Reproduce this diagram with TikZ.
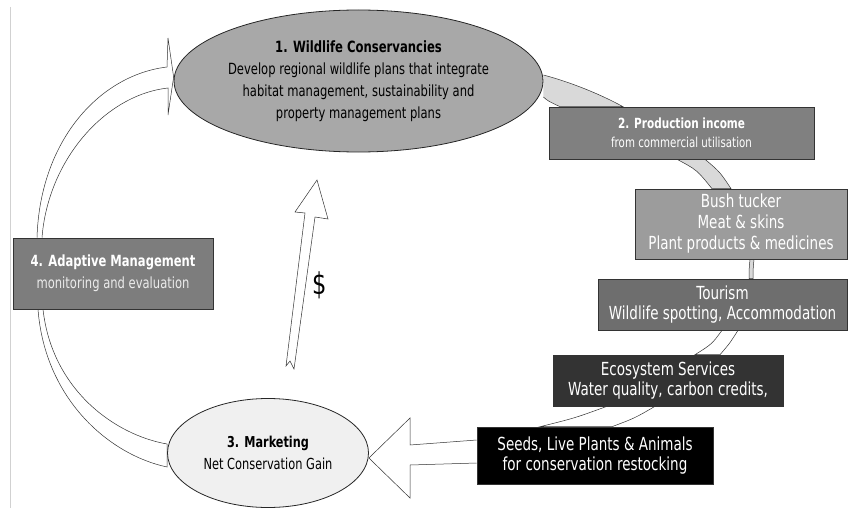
\documentclass[tikz,border=0pt]{standalone}
\usepackage{fontspec}
\setmainfont[FakeStretch=0.75]{DejaVu Sans}
\usetikzlibrary{shapes.geometric,backgrounds}

\begin{document}
\begin{tikzpicture}[x=1pt, y=-1pt,
  box/.style={rectangle, draw=black!80, line width=0.6pt, text=white, align=center, inner sep=0pt},
  oval/.style={ellipse, draw=black!85, line width=0.8pt, align=center, inner sep=0pt},
  band/.style={draw=black!80, line width=0.5pt, fill=black!15},
  hollow/.style={draw=black!80, line width=0.5pt, fill=white}]
\useasboundingbox (0,0) rectangle (848,508);
\draw[black!18] (10.5,7) -- (10.5,508);

% the four steps
\node[oval, fill=black!34, minimum width=343, minimum height=142,
  font=\fontsize{15.4}{22}\selectfont] (cons) at (358.5,81)
  {{\fontsize{15.5}{22}\selectfont\bfseries 1. Wildlife Conservancies}\\
   Develop regional wildlife plans that integrate\\
   habitat management, sustainability and\\ property management plans};
\node[box, fill=black!50, minimum width=265, minimum height=52,
  font=\fontsize{13.7}{19}\selectfont] (income) at (681.5,133)
  {{\fontsize{14}{19}\selectfont\bfseries 2. Production income}\\
   from commercial utilisation};
\node[oval, fill=black!6, minimum width=201, minimum height=109,
  font=\fontsize{15.2}{22}\selectfont] (market) at (268,453)
  {{\bfseries\fontsize{15}{22}\selectfont 3. Marketing}\\ Net Conservation Gain};
\node[box, fill=black!51, minimum width=200, minimum height=71,
  font=\fontsize{15.4}{22}\selectfont] (adapt) at (113,273.5)
  {{\bfseries 4. Adaptive Management}\\ \textcolor{black!8}{monitoring and evaluation}};

% income streams
\node[box, fill=black!39, minimum width=212, minimum height=70,
  font=\fontsize{18}{21}\selectfont] (bush) at (741,224)
  {Bush tucker\\ Meat \& skins\\ Plant products \& medicines};
\node[box, fill=black!57, minimum width=249, minimum height=51,
  font=\fontsize{18}{20}\selectfont] (tour) at (722.5,304.5)
  {Tourism\\ Wildlife spotting, Accommodation};
\node[box, fill=black!80, minimum width=230, minimum height=51,
  font=\fontsize{18}{20}\selectfont] (eco) at (668,380.5)
  {Ecosystem Services\\ Water quality, carbon credits,};
\node[box, fill=black, minimum width=236, minimum height=57,
  font=\fontsize{18}{20}\selectfont] (seeds) at (595,455.5)
  {Seeds, Live Plants \& Animals\\ for conservation restocking};

\node[font=\fontsize{30}{30}\selectfont] (dollar) at (320,285) {\$};

\begin{scope}[on background layer]
\draw[band] (cons.east |- 0,75) .. controls (570,82) and (600,94) .. (623,0 |- income.north)
  -- (560,0 |- income.north) .. controls (548,101) .. (cons.east |- 0,97);
\draw[band] (677,0 |- income.south) .. controls (697,170) .. (712,0 |- bush.north)
  -- (731,0 |- bush.north) .. controls (720,172) .. (705,0 |- income.south);
\draw[band] (750,0 |- bush.south) .. controls (749,270) .. (749,0 |- tour.north)
  -- (753,0 |- tour.north) .. controls (753,270) .. (754,0 |- bush.south);
\draw[hollow] (722,0 |- tour.south) .. controls (712,344) .. (695,0 |- eco.north)
  -- (720,0 |- eco.north) .. controls (730,343) .. (738,0 |- tour.south);
\draw[hollow] (607,0 |- eco.south) .. controls (575,418) .. (540,0 |- seeds.north)
  -- (612,0 |- seeds.north) .. controls (635,418) .. (655,0 |- eco.south);
\draw[hollow] (seeds.west |- 0,440) -- (410,445) -- (410,418) -- (market.east |- 0,458)
  -- (410,498) -- (410,465) -- (seeds.west |- 0,463);
\draw[hollow] (adapt.south -| 38,0) .. controls (45,400) and (110,455) .. (market.west |- 0,467)
  -- (market.west |- 0,444) .. controls (115,435) and (52,390) .. (adapt.south -| 43,0);
\draw[hollow] (adapt.north -| 37,0) .. controls (40,140) and (100,75) .. (167,67)
  -- (168,38) -- (cons.west |- 0,77) -- (168,115) -- (168,88)
  .. controls (105,95) and (48,160) .. (adapt.north -| 42,0);
\end{scope}
\draw[hollow] (286,366) -- (305,213) -- (295,212) -- (317,180) -- (328,219) -- (315,217)
  -- (294,369) -- (290,361) -- cycle;
\end{tikzpicture}
\end{document}
